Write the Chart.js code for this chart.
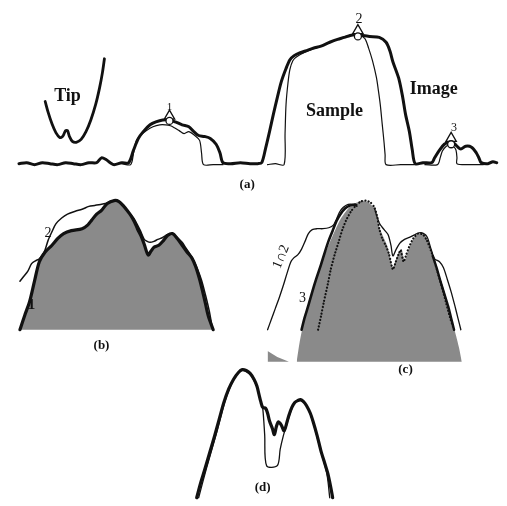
<!DOCTYPE html>
<html>
<head>
<meta charset="utf-8">
<script src="https://cdn.jsdelivr.net/npm/chart.js@4.4.1/dist/chart.umd.min.js"></script>
<style>
html,body{margin:0;padding:0;background:#fff;}
#wrap{position:relative;width:507px;height:506px;}
canvas{display:block;}
</style>
</head>
<body>
<div id="wrap"><canvas id="c" width="507" height="506"></canvas></div>
<script>
// Profiles: [scan position, height] in figure units (y grows downward)
// Panel (a)
const tipProfile = [[39,97],[42,108],[46,120],[50,129],[54,134],[57,133],[60,127],[62,127],[64,133],[67,138],[71,139],[76,136],[81,128],[86,116],[91,100],[95,83],[98,67],[100,53]];
const imageA = [[12,161],[20,160],[28,162],[36,160],[44,161],[52,162],[60,160],[68,161],[76,162],[84,160],[92,160],[97,155],[102,157],[106,160],[110,162],[118,160],[125,160],[130,147],[135,135],[140,128],[147,121],[153,118],[160,116],[167,116],[173,118],[180,121],[187,123],[192,128],[197,132],[203,133],[209,135],[215,141],[219,150],[222,160],[230,161],[240,160],[250,161],[258,161],[262,160],[266,145],[270,128],[274,110],[278,93],[282,77],[287,63],[291,54],[295,50],[301,47],[307,45],[315,42],[323,40],[332,36],[340,33],[347,31],[353,29],[360,28],[366,29],[373,30],[383,31],[390,36],[394,45],[397,56],[403,73],[407,92],[410,110],[414,128],[417,147],[420,161],[428,160],[437,160],[440,155],[445,147],[450,141],[455,139],[460,140],[463,143],[467,146],[472,143],[478,144],[483,150],[486,156],[488,160],[495,161],[500,159],[504,160]];
const sampleA1 = [[118,161],[127,162],[130,150],[133,137],[138,131],[143,127],[150,123],[157,121],[163,121],[168,122],[172,124],[177,127],[182,130],[187,128],[193,132],[198,137],[200,150],[202,162],[212,162],[222,162]];
const sampleA2 = [[268,162],[276,161],[285,162],[286,130],[287,100],[289,78],[291,64],[294,55],[298,51],[307,46],[323,40],[340,33],[353,29],[362,29],[368,32],[372,42],[376,55],[380,72],[382,85],[384,100],[386,120],[388,140],[389,152],[390,162],[405,162],[420,162]];
const sampleA3 = [[430,162],[443,162],[446,154],[448,148],[452,143],[456,142],[460,144],[462,147],[463,155],[463,161],[475,162],[490,162]];
const peakMarks = [[167,117],[361,30],[457,141]];
const peakHats = [[167,112],[361,24],[457,135]];
// Panel (b)
const profileB1 = [[13,332],[18,317],[23,303],[28,282],[33,262],[39,252],[46,245],[52,238],[58,233],[66,230],[77,228],[83,224],[87,219],[92,213],[97,209],[103,202],[110,199],[115,200],[120,205],[124,210],[127,214],[131,221],[134,228],[138,236],[141,244],[145,255],[148,251],[151,247],[156,245],[161,240],[165,235],[170,233],[175,238],[180,245],[185,252],[190,258],[194,267],[198,280],[201,292],[204,305],[207,318],[212,332]];
const profileB2 = [[13,282],[17,277],[21,272],[25,264],[29,261],[33,259],[38,252],[42,240],[46,231],[50,223],[56,217],[62,213],[70,210],[77,208],[84,205],[90,204],[96,203],[101,202],[106,200],[110,199],[116,201],[121,206],[125,211],[130,217],[134,224],[137,230],[141,239],[144,241],[147,242],[151,241],[155,239],[160,237],[165,234],[170,233],[175,237],[180,242],[184,248],[188,254],[192,261],[196,270],[200,281],[204,296],[208,313],[211,330]];
// Panel (c)
const regionC = [[298,365],[301,345],[304,330],[309,312],[314,295],[319,278],[324,262],[330,247],[336,233],[342,220],[348,211],[354,204],[360,201],[366,199],[372,201],[377,206],[380,214],[383,226],[387,236],[391,245],[394,256],[397,268],[400,260],[403,252],[406,249],[409,261],[412,253],[416,243],[420,236],[425,233],[430,235],[434,242],[438,253],[442,267],[446,280],[450,292],[454,307],[458,322],[462,338],[465,350],[468,365]];
const cornerC = [[268,354],[278,360],[290,365]];
const dottedC = [[320,332],[323,318],[326,303],[330,285],[333,270],[337,255],[341,242],[345,229],[349,219],[354,210],[359,204],[364,200],[369,199],[374,201],[378,206],[381,216],[383,228],[386,238],[390,246],[393,254],[397,270],[400,262],[403,254],[405,250],[408,262],[411,254],[414,246],[418,238],[423,233],[428,234],[432,240],[436,250],[440,262],[444,276],[448,290],[452,305],[456,320],[460,332]];
const profileC3L = [[303,332],[306,320],[310,307],[314,293],[318,280],[323,265],[327,252],[331,240],[335,230],[339,220],[343,213],[348,207],[353,204],[358,203]];
const profileC3R = [[438,256],[442,268],[446,282],[450,295],[454,308],[457,320],[460,332]];
const profileC12L = [[268,332],[272,321],[276,310],[280,299],[284,287],[288,274],[292,262],[295,258],[299,255],[303,249],[307,240],[310,233],[314,229],[319,228],[325,228],[331,227],[336,224],[339,218],[342,211],[346,206],[351,203],[356,203],[360,205]];
const profileC12R = [[378,207],[383,222],[388,229],[392,234],[395,245],[397,256],[400,250],[404,243],[409,239],[414,237],[420,234],[426,232],[432,236],[436,248],[440,259],[445,262],[449,268],[453,280],[457,293],[461,308],[464,320],[467,332]];
// Panel (d)
const profileD1 = [[195,505],[199,490],[203,477],[208,460],[213,443],[218,425],[223,407],[228,393],[233,383],[238,376],[242,373],[246,374],[250,377],[254,383],[257,390],[259,398],[261,406],[263,412],[266,413],[268,418],[270,426],[273,434],[275,440],[277,432],[279,427],[282,430],[285,436],[288,427],[290,420],[293,412],[296,407],[299,405],[302,404],[305,406],[308,410],[312,418],[315,427],[319,441],[323,457],[327,470],[330,480],[333,494],[335,505]];
const profileD2 = [[197,505],[205,475],[215,440],[225,403],[235,380],[242,374],[250,378],[257,391],[261,406],[263,413],[265,440],[267,472],[278,472],[281,455],[284,442],[287,432],[291,419],[296,407],[302,405],[308,410],[315,428],[323,458],[329,480],[332,505]];
// Text labels
const textLabels = [
  {t:'Tip', x:62, y:92, size:18, bold:true},
  {t:'Sample', x:337, y:107, size:18, bold:true},
  {t:'Image', x:439, y:84, size:18, bold:true},
  {t:'1', x:167, y:103, size:11, bold:false},
  {t:'2', x:362, y:12, size:14, bold:false},
  {t:'3', x:460, y:124, size:12, bold:false},
  {t:'(a)', x:247, y:183, size:13, bold:true},
  {t:'2', x:42, y:233, size:14, bold:false},
  {t:'1', x:25, y:307, size:15, bold:true},
  {t:'(b)', x:97, y:348, size:13, bold:true},
  {t:'3', x:304, y:300, size:14, bold:false},
  {t:'(c)', x:410, y:373, size:13, bold:true},
  {t:'(d)', x:263, y:495, size:13, bold:true}
];
const rotatedLabels = [{t:'1∩2', x:282, y:257, size:14, angle:-68}];

const pts = a => a.map(p => ({x:p[0], y:p[1]}));
const INK = '#111';
const GRAY = '#8a8a8a';
function line(data, w, extra){
  return Object.assign({data:pts(data), borderColor:INK, borderWidth:w, pointRadius:0, fill:false, tension:0.3, clip:false, borderCapStyle:'round', borderJoinStyle:'round', order:1}, extra||{});
}
const datasets = [
  line(regionC, 0, {fill:{value:365}, backgroundColor:GRAY, borderColor:'rgba(0,0,0,0)', order:10, tension:0.2}),
  line(cornerC, 0, {fill:{value:365}, backgroundColor:GRAY, borderColor:'rgba(0,0,0,0)', order:10, tension:0}),
  line(profileB1, 0, {fill:{value:332}, backgroundColor:GRAY, borderColor:'rgba(0,0,0,0)', order:10}),
  line(tipProfile, 2.8),
  line(sampleA1, 1.2),
  line(sampleA2, 1.2),
  line(sampleA3, 1.2),
  line(imageA, 3),
  line(profileB2, 1.5),
  line(profileB1, 3.2),
  line(profileC12L, 1.3),
  line(profileC12R, 1.3),
  line(dottedC, 2.2, {borderDash:[0.1,3.2], tension:0.2}),
  line(profileC3L, 2.6),
  line(profileC3R, 2.4),
  line(profileD2, 1.3),
  line(profileD1, 3.2),
  {data:pts(peakMarks), showLine:false, pointStyle:'circle', pointRadius:3.5, pointBorderColor:INK, pointBackgroundColor:'#fff', pointBorderWidth:1.3, order:0, clip:false},
  {data:pts(peakHats), showLine:false, pointStyle:'triangle', pointRadius:6, pointBorderColor:INK, pointBackgroundColor:'rgba(0,0,0,0)', pointBorderWidth:1.3, order:0, clip:false}
];

const labelPlugin = {
  id:'labels',
  afterDatasetsDraw(chart){
    const ctx = chart.ctx, xs = chart.scales.x, ys = chart.scales.y;
    ctx.save();
    ctx.fillStyle = INK;
    ctx.textAlign = 'center';
    ctx.textBaseline = 'middle';
    textLabels.forEach(l => {
      ctx.font = (l.bold ? 'bold ' : '') + l.size + 'px "Liberation Serif", "DejaVu Serif", serif';
      ctx.fillText(l.t, xs.getPixelForValue(l.x), ys.getPixelForValue(l.y));
    });
    rotatedLabels.forEach(l => {
      ctx.save();
      ctx.translate(xs.getPixelForValue(l.x), ys.getPixelForValue(l.y));
      ctx.rotate(l.angle*Math.PI/180);
      ctx.font = l.size + 'px "Liberation Serif", "DejaVu Serif", serif';
      ctx.fillText(l.t, 0, 0);
      ctx.restore();
    });
    ctx.restore();
  }
};

new Chart(document.getElementById('c'), {
  type:'line',
  data:{datasets},
  options:{
    responsive:false,
    animation:false,
    devicePixelRatio:1,
    layout:{padding:0},
    plugins:{legend:{display:false}, tooltip:{enabled:false}},
    scales:{
      x:{type:'linear', min:0, max:507, display:false},
      y:{type:'linear', min:0, max:506, reverse:true, display:false}
    }
  },
  plugins:[labelPlugin]
});
</script>
</body>
</html>
